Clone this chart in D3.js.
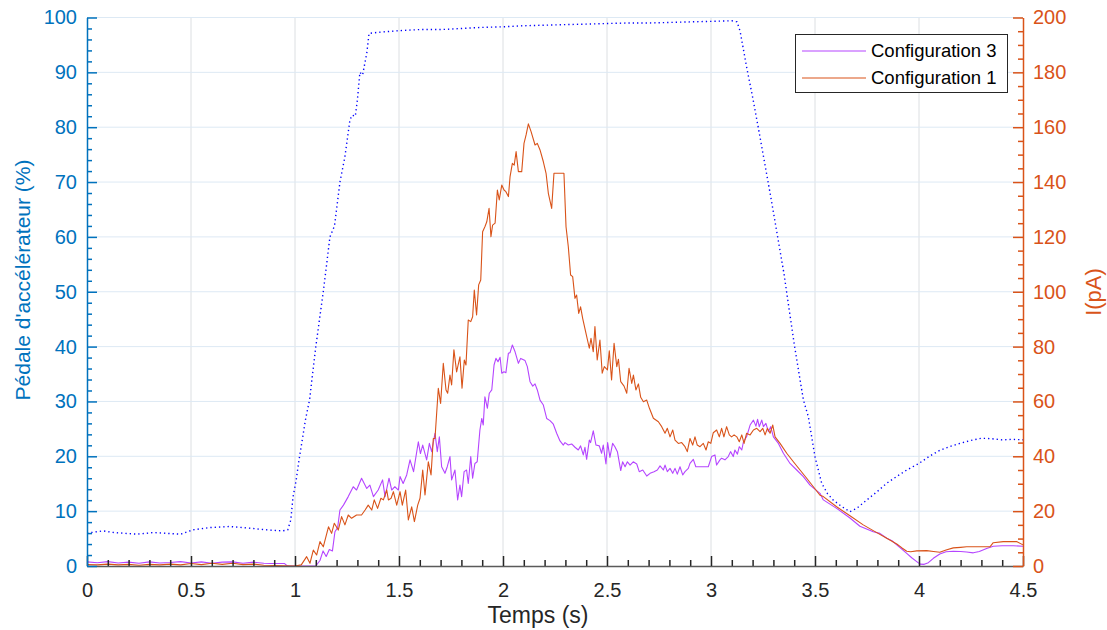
<!DOCTYPE html>
<html><head><meta charset="utf-8">
<script src="https://cdn.jsdelivr.net/npm/d3@7"></script>
<style>
html,body{margin:0;padding:0;background:#fff;}
svg{display:block;font-family:"Liberation Sans",Arial,Helvetica,sans-serif;}
</style></head>
<body><svg id="chart" width="1107" height="630"></svg>
<script>
// ---------- data ----------
const xTickVals = [0,0.5,1,1.5,2,2.5,3,3.5,4,4.5];
const xTickLabels = ["0","0.5","1","1.5","2","2.5","3","3.5","4","4.5"];
const leftTickVals = [0,10,20,30,40,50,60,70,80,90,100];
const rightTickVals = [0,20,40,60,80,100,120,140,160,180,200];
const seriesNames = ["Configuration 3","Configuration 1"];

// Pédale d'accélérateur (%) - left axis
const pedalT = [0,0.077,0.13,0.24,0.32,0.45,0.51,0.59,0.685,0.78,0.86,0.94,0.965,0.98,0.99,1.005,1.02,1.035,1.05,1.07,1.1,1.136,1.168,1.19,1.216,1.24,1.264,1.275,1.29,1.3,1.312,1.325,1.345,1.356,1.4,1.5,1.6,1.7,1.8,1.9,2.0,2.1,2.2,2.3,2.4,2.5,2.6,2.7,2.8,2.9,3.0,3.1,3.125,3.14,3.171,3.2,3.227,3.284,3.3,3.35,3.4,3.444,3.468,3.5,3.532,3.56,3.588,3.63,3.668,3.7,3.748,3.8,3.845,3.9,3.941,4.0,4.05,4.1,4.15,4.2,4.25,4.3,4.35,4.4,4.45,4.5];
const pedalV = [6.0,6.4,6.1,5.8,6.1,5.8,6.6,7.0,7.2,6.9,6.6,6.4,6.6,8.4,12.5,15.5,19.5,23,26.6,30.3,40,50,60,62,70,74.6,81.3,82.2,82,85,90,89.5,93.5,97.1,97.3,97.6,97.8,97.8,98.0,98.2,98.3,98.5,98.6,98.7,98.8,98.9,99.0,99.0,99.1,99.2,99.3,99.4,99.2,97.5,91,85.5,80,68,64.5,53.5,40.5,30.3,27.2,19.9,15.1,13.2,12.0,10.8,9.9,10.5,12.0,13.6,15.1,16.5,17.5,18.7,20.0,21.1,21.8,22.4,22.9,23.3,23.2,23.0,23.1,23.0];

// Configuration 3 (pA) - right axis
const c3T = [0,0.05,0.1,0.15,0.2,0.25,0.3,0.35,0.4,0.45,0.5,0.55,0.6,0.65,0.7,0.75,0.8,0.85,0.88,0.95,0.96,0.97,1.1,1.12,1.135,1.15,1.165,1.18,1.192,1.205,1.216,1.233,1.256,1.28,1.296,1.32,1.345,1.36,1.377,1.4,1.421,1.433,1.452,1.465,1.48,1.497,1.505,1.52,1.537,1.553,1.57,1.593,1.603,1.614,1.633,1.646,1.657,1.673,1.684,1.694,1.705,1.721,1.732,1.745,1.753,1.769,1.782,1.793,1.801,1.813,1.825,1.833,1.845,1.854,1.865,1.876,1.889,1.898,1.905,1.913,1.925,1.934,1.946,1.957,1.966,1.976,1.986,1.994,2.005,2.014,2.026,2.034,2.045,2.058,2.074,2.085,2.106,2.117,2.13,2.143,2.154,2.165,2.178,2.194,2.21,2.226,2.242,2.258,2.274,2.29,2.298,2.314,2.33,2.346,2.362,2.373,2.386,2.394,2.402,2.415,2.421,2.434,2.447,2.463,2.474,2.482,2.495,2.503,2.514,2.527,2.538,2.55,2.566,2.575,2.587,2.598,2.611,2.626,2.643,2.655,2.672,2.691,2.707,2.726,2.742,2.755,2.771,2.779,2.79,2.803,2.816,2.827,2.838,2.851,2.864,2.875,2.891,2.899,2.915,2.927,2.94,2.987,3.003,3.019,3.027,3.043,3.051,3.067,3.083,3.094,3.107,3.115,3.127,3.136,3.148,3.156,3.171,3.188,3.204,3.216,3.224,3.232,3.244,3.252,3.264,3.276,3.287,3.3,3.324,3.348,3.38,3.412,3.444,3.476,3.524,3.54,3.604,3.668,3.716,3.748,3.78,3.812,3.845,3.87,3.893,3.92,3.941,3.965,3.989,4.005,4.025,4.045,4.069,4.1,4.13,4.165,4.2,4.229,4.261,4.29,4.325,4.357,4.4,4.453,4.5];
const c3V = [1.5,1.2,1.6,1.1,1.4,1.0,1.5,1.1,1.3,1.6,1.1,1.5,1.0,1.4,1.5,1.0,1.4,1.0,0.9,0.9,0.2,0,0,2,5.5,3.5,6,5.5,12.5,14,20.4,22.2,25.3,28.9,27.7,32,28.3,29.5,25.3,27.7,31.4,25.3,32,27.7,28.9,27.7,32.6,30.1,33.2,38.7,34.4,45.3,41,44.1,38.7,44.7,41.7,48.4,41.7,47.1,36.2,33.8,36.2,39.9,31.4,35,24.1,29.5,25.3,34.4,35,30.1,39.9,32,37.4,38,49.6,53.8,51.4,61.7,57.5,63,64.2,73.3,75.7,74.5,76.1,70.3,70.8,70.5,77.6,77.8,80.6,78.1,73.9,75.7,74.9,72.7,67.2,65.6,66.4,64.2,60.5,58.7,53.8,53,51.7,48.4,45.6,44.1,45,44.1,44.5,43.3,42.3,43.8,40.5,43.3,38.9,45.9,45,49.3,44.1,43.8,41.1,44.1,37.2,45,39.6,44.7,43.5,41.7,34.8,38,36.2,38,36.8,38,37.2,34.4,35,32.8,33.8,34.4,35,36.5,35,36.8,34.4,35.6,33.8,35.6,33.5,36.2,33.2,34.4,35.6,37.4,38.9,36.2,36.2,36.2,39.9,40.5,36.8,38.7,39.3,38.7,39.9,41.7,39.9,42.3,40.8,43.5,42.3,45.3,47.1,51.4,53.2,51,53.5,50.8,53.2,50.8,52,49,50.8,47.1,44.7,41.1,37.4,35,32.6,29.5,26.5,24.1,21,17.5,14.5,13.5,12.5,11.9,10.1,9.2,7.7,6,4.6,3,1.6,0.7,0.6,1.2,2.8,4.4,5.2,5.4,5.3,5.1,4.8,5.3,6.4,7.2,7.4,7.4,7.2];

// Configuration 1 (pA) - right axis
const c1T = [0,0.05,0.1,0.15,0.2,0.25,0.3,0.35,0.4,0.45,0.5,0.55,0.6,0.65,0.7,0.75,0.8,0.85,0.9,0.95,1.0,1.03,1.056,1.072,1.088,1.104,1.12,1.136,1.161,1.176,1.189,1.208,1.224,1.24,1.256,1.272,1.296,1.32,1.337,1.352,1.369,1.381,1.397,1.413,1.425,1.441,1.449,1.462,1.473,1.489,1.505,1.516,1.532,1.545,1.561,1.574,1.59,1.601,1.614,1.625,1.641,1.654,1.665,1.673,1.689,1.7,1.713,1.726,1.734,1.745,1.753,1.764,1.777,1.793,1.803,1.814,1.822,1.833,1.845,1.854,1.862,1.873,1.883,1.893,1.902,1.913,1.922,1.933,1.942,1.95,1.962,1.973,1.982,1.994,2.005,2.014,2.026,2.034,2.045,2.054,2.063,2.074,2.09,2.101,2.111,2.122,2.135,2.154,2.165,2.178,2.194,2.207,2.218,2.234,2.245,2.293,2.303,2.314,2.325,2.335,2.346,2.354,2.364,2.373,2.383,2.399,2.415,2.423,2.434,2.442,2.453,2.466,2.477,2.487,2.502,2.511,2.522,2.534,2.547,2.555,2.566,2.582,2.595,2.606,2.619,2.627,2.639,2.651,2.662,2.675,2.691,2.704,2.723,2.747,2.763,2.779,2.79,2.803,2.816,2.827,2.843,2.859,2.875,2.886,2.899,2.912,2.923,2.934,2.947,2.963,2.976,2.987,2.999,3.011,3.027,3.04,3.051,3.062,3.075,3.088,3.099,3.111,3.124,3.136,3.148,3.159,3.171,3.188,3.204,3.22,3.236,3.249,3.26,3.271,3.284,3.297,3.308,3.332,3.364,3.396,3.428,3.46,3.492,3.524,3.54,3.604,3.668,3.732,3.78,3.845,3.893,3.92,3.941,3.96,3.989,4.037,4.07,4.1,4.13,4.165,4.2,4.229,4.293,4.341,4.357,4.405,4.469,4.5];
const c1V = [0.5,0.4,0.7,0.4,0.6,0.3,0.6,0.4,0.7,0.4,0.9,0.5,1.0,0.6,1.0,0.5,0.7,0.3,0.2,0.1,0,0.4,3.4,1,5.8,4,8.9,7,14.3,11.9,15.6,13.1,18,15,18.6,17.4,18.6,18.6,20.4,22.2,20.4,24.1,21,24.7,24.1,27.7,24.1,24.7,27.1,22.2,27.1,22.2,27.7,16.8,21.6,16.2,22.2,24.7,35,25.9,38,33.2,46.5,46.5,64.8,59.3,73.9,64.2,63,69.6,66,78.8,70.8,76.3,64.8,75.1,73.3,89.7,89.1,90.9,100.6,91.5,102.5,104.3,121.9,123.7,125.5,130.4,120.1,124.3,125,137.1,133.5,138.9,137.1,136.5,134.7,142,146.8,146.2,151.1,143.8,143.8,154.1,157.2,161.2,158.4,153.5,154.1,151.7,147.4,143.2,135.9,130.4,143.2,143.2,123.7,116.4,106.1,105.5,97.6,98.8,92.1,94.5,90.3,84.8,79.4,83,78.1,87.3,75.1,82.4,70.3,72.7,71.5,78.5,67.8,81.2,72.7,75.4,67.2,65.6,63,72.1,66.6,69.6,64.2,66.4,61.5,59.9,60.5,57.5,53.9,52.6,50.8,48.4,50.2,47.1,49.6,45.9,44.7,45,43.5,41.7,46.5,44.1,47.1,44.1,43.5,44.7,42.3,45.3,44.7,48.6,49.6,47.1,50.2,47.1,50.8,47.8,47.1,47.8,47.1,45.3,47.8,44.7,48.4,47.8,49.6,50.2,49,50.2,47.8,50.2,48.4,51.4,47.1,44.7,41.1,38,35,32,28.9,25.8,25.3,21.6,18.3,15,12.9,10.1,8,6.5,5.4,5.2,5.5,5.6,5.3,5.0,5.8,6.6,6.8,7,7,7,8.5,8.9,8.9,7.7];

// ---------- chart ----------
const m = {left:87, right:1023, top:17.5, bottom:566};
const leftColor = "#0072BD", rightColor = "#D95319";
const c3Color = "#B545FF", c1Color = "#D95319", pedalColor = "#0000FF";
const svg = d3.select("#chart");

const x = d3.scaleLinear().domain([0,4.5]).range([m.left, m.right]);
const yL = d3.scaleLinear().domain([0,100]).range([m.bottom, m.top]);
const yR = d3.scaleLinear().domain([0,200]).range([m.bottom, m.top]);

// grid
const grid = svg.append("g");
grid.selectAll("line.v").data(xTickVals.slice(1, -1)).enter().append("line")
  .attr("x1", d=>x(d)).attr("x2", d=>x(d)).attr("y1", m.top).attr("y2", m.bottom)
  .attr("stroke", "#dcdfe2").attr("stroke-width", 1);
grid.selectAll("line.h").data(leftTickVals.slice(1)).enter().append("line")
  .attr("x1", m.left).attr("x2", m.right).attr("y1", d=>yL(d)).attr("y2", d=>yL(d))
  .attr("stroke", "#dde9f4").attr("stroke-width", 1);

// lines
const zipper = (T, V) => T.map((t,i)=>[t, V[i]]);
const lineL = d3.line().x(d=>x(d[0])).y(d=>yL(d[1]));
const lineR = d3.line().x(d=>x(d[0])).y(d=>yR(d[1]));
const plot = svg.append("g");
plot.append("path").attr("d", lineL(zipper(pedalT, pedalV)))
  .attr("fill","none").attr("stroke", pedalColor).attr("stroke-width", 1.4)
  .attr("stroke-dasharray", "1.3 3");
plot.append("path").attr("d", lineR(zipper(c3T, c3V)))
  .attr("fill","none").attr("stroke", c3Color).attr("stroke-width", 1.1).attr("stroke-linejoin","round");
plot.append("path").attr("d", lineR(zipper(c1T, c1V)))
  .attr("fill","none").attr("stroke", c1Color).attr("stroke-width", 1.1).attr("stroke-linejoin","round");

// axes
const fontSize = "20px";
function style(g, color) {
  g.select(".domain").attr("stroke", color).attr("stroke-width", 1.5);
  g.selectAll(".tick line").attr("stroke", color).attr("stroke-width", 1.5);
  g.selectAll(".tick text").attr("fill", color).style("font-size", fontSize)
    .style("font-family", "'Liberation Sans', Arial, sans-serif");
}
const xMinor = d3.range(0, 46).map(i => i/10).filter(v => Math.abs(v*2 - Math.round(v*2)) > 1e-6);
const lMinor = d3.range(0, 101, 2).filter(v => v % 10 !== 0);
const rMinor = d3.range(0, 201, 5).filter(v => v % 20 !== 0);

const gxm = svg.append("g").attr("transform", `translate(0,${m.bottom})`)
  .call(d3.axisBottom(x).tickValues(xMinor).tickSizeInner(-6).tickSizeOuter(0).tickFormat(""));
gxm.select(".domain").remove();
gxm.selectAll(".tick line").attr("stroke", "#262626").attr("stroke-width", 1.5);

const gx = svg.append("g").attr("transform", `translate(0,${m.bottom})`)
  .call(d3.axisBottom(x).tickValues(xTickVals).tickSizeInner(-10).tickSizeOuter(0)
    .tickPadding(17).tickFormat((d,i)=>xTickLabels[i]));
style(gx, "#262626");
gx.select(".domain").attr("stroke", "#5a5a5a");

const glm = svg.append("g").attr("transform", `translate(${m.left},0)`)
  .call(d3.axisLeft(yL).tickValues(lMinor).tickSizeInner(-5).tickSizeOuter(0).tickFormat(""));
glm.select(".domain").remove();
glm.selectAll(".tick line").attr("stroke", leftColor).attr("stroke-width", 1.5);
const gl = svg.append("g").attr("transform", `translate(${m.left},0)`)
  .call(d3.axisLeft(yL).tickValues(leftTickVals).tickSizeInner(-10).tickSizeOuter(0).tickPadding(10).tickFormat(d3.format("d")));
style(gl, leftColor);

const grm = svg.append("g").attr("transform", `translate(${m.right},0)`)
  .call(d3.axisRight(yR).tickValues(rMinor).tickSizeInner(-5).tickSizeOuter(0).tickFormat(""));
grm.select(".domain").remove();
grm.selectAll(".tick line").attr("stroke", rightColor).attr("stroke-width", 1.5);
const gr = svg.append("g").attr("transform", `translate(${m.right},0)`)
  .call(d3.axisRight(yR).tickValues(rightTickVals).tickSizeInner(-10).tickSizeOuter(0).tickPadding(10).tickFormat(d3.format("d")));
style(gr, rightColor);

// axis labels
svg.append("text").attr("x", 538).attr("y", 623).attr("text-anchor","middle")
  .attr("fill","#262626").style("font-size", "23px").text("Temps (s)");
svg.append("text").attr("transform", `translate(30,280) rotate(-90)`)
  .attr("text-anchor","middle").attr("fill", leftColor).style("font-size", "21px")
  .text("Pédale d'accélérateur (%)");
svg.append("text").attr("transform", `translate(1101,292) rotate(-90)`)
  .attr("text-anchor","middle").attr("fill", rightColor).style("font-size", "22px")
  .text("I(pA)");

// legend
const lg = svg.append("g");
lg.append("rect").attr("x", 795.5).attr("y", 34.5).attr("width", 212).attr("height", 58)
  .attr("fill","#fff").attr("stroke","#262626").attr("stroke-width",1);
const legColors = [c3Color, c1Color];
seriesNames.forEach((name, i) => {
  const yy = 51 + i*27;
  lg.append("line").attr("x1", 802).attr("x2", 866).attr("y1", yy).attr("y2", yy)
    .attr("stroke", legColors[i]).attr("stroke-width", 1.1);
  lg.append("text").attr("x", 871).attr("y", yy).attr("dy","0.35em")
    .attr("fill","#000").style("font-size","18.5px").text(name);
});
</script></body></html>
